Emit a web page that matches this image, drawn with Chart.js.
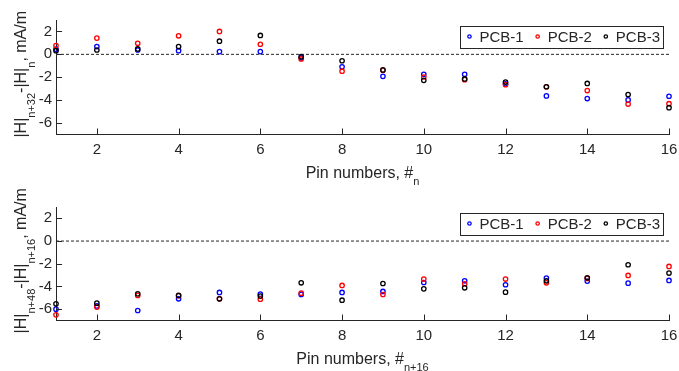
<!DOCTYPE html>
<html>
<head>
<meta charset="utf-8">
<script src="https://cdn.jsdelivr.net/npm/chart.js@4.4.0/dist/chart.umd.min.js"></script>
<style>
  html, body { margin: 0; padding: 0; background: #fff; }
  #wrap { position: relative; width: 679px; height: 371px; }
  #wrap canvas { position: absolute; left: 0; top: 0; }
</style>
</head>
<body>
<div id="wrap">
  <canvas id="topChart" width="679" height="371"></canvas>
  <canvas id="bottomChart" width="679" height="371"></canvas>
</div>
<script>
// pin numbers and tick labels
const pins = [1, 2, 3, 4, 5, 6, 7, 8, 9, 10, 11, 12, 13, 14, 15, 16];
const xTicks = [2, 4, 6, 8, 10, 12, 14, 16];
const yTicks = [-6, -4, -2, 0, 2];
const seriesNames = ['PCB-1', 'PCB-2', 'PCB-3'];
const zeroLine = [0, 0];

// |H|n+32 - |H|n
const pcb1Top = [0.45, 0.68, 0.38, 0.32, 0.24, 0.24, -0.3, -1.09, -1.92, -1.74, -1.74, -2.57, -3.63, -3.86, -3.98, -3.66];
const pcb2Top = [0.77, 1.42, 0.97, 1.62, 2.0, 0.88, -0.4, -1.47, -1.39, -1.98, -2.21, -2.65, -2.83, -3.16, -4.34, -4.31];
const pcb3Top = [0.32, 0.38, 0.47, 0.68, 1.15, 1.65, -0.2, -0.56, -1.36, -2.27, -2.15, -2.42, -2.83, -2.54, -3.51, -4.66];

// |H|n+48 - |H|n+16
const pcb1Bot = [-6.0, -5.72, -6.12, -5.09, -4.53, -4.68, -4.7, -4.53, -4.44, -3.65, -3.5, -3.85, -3.26, -3.53, -3.71, -3.47];
const pcb2Bot = [-6.5, -5.82, -4.79, -4.82, -5.09, -5.12, -4.59, -3.91, -4.71, -3.35, -3.76, -3.35, -3.68, -3.29, -3.03, -2.24];
const pcb3Bot = [-5.53, -5.47, -4.65, -4.79, -5.09, -4.85, -3.68, -5.21, -3.74, -4.21, -4.12, -4.5, -3.5, -3.24, -2.09, -2.82];

const colors = ['#0000ff', '#ff0000', '#000000'];
const axisColor = '#262626';
const fontFamily = '"Liberation Sans", Arial, Helvetica, sans-serif';

// draws text pieces, some as subscripts; returns total width
function richText(ctx, parts, x, y, subDrop, draw) {
  let w = 0;
  parts.forEach(p => {
    ctx.font = (p.sub ? 11 : 16) + 'px ' + fontFamily;
    if (draw) ctx.fillText(p.t, x + w, y + (p.sub ? subDrop : 0));
    w += ctx.measureText(p.t).width;
  });
  return w;
}

const matlabAxes = {
  id: 'matlabAxes',
  afterDraw(chart, args, opts) {
    const { ctx, chartArea: a } = chart;
    const xs = chart.scales.x, ys = chart.scales.y;
    ctx.save();
    // inward tick marks
    ctx.strokeStyle = axisColor;
    ctx.lineWidth = 1;
    ctx.beginPath();
    xTicks.forEach(v => {
      const px = Math.round(xs.getPixelForValue(v)) + 0.5;
      ctx.moveTo(px, a.bottom);
      ctx.lineTo(px, a.bottom - 6);
    });
    yTicks.forEach(v => {
      const py = Math.round(ys.getPixelForValue(v)) + 0.5;
      ctx.moveTo(a.left, py);
      ctx.lineTo(a.left + 6, py);
    });
    ctx.stroke();

    // axis titles
    ctx.fillStyle = axisColor;
    ctx.textBaseline = 'alphabetic';
    ctx.textAlign = 'left';
    const xw = richText(ctx, opts.xTitle, 0, 0, 0, false);
    richText(ctx, opts.xTitle, (a.left + a.right) / 2 - xw / 2, a.bottom + 43, 7.5, true);
    const yw = richText(ctx, opts.yTitle, 0, 0, 0, false);
    ctx.save();
    ctx.translate(26, (a.top + a.bottom) / 2 - 3);
    ctx.rotate(-Math.PI / 2);
    richText(ctx, opts.yTitle, -yw / 2, 0, 8.5, true);
    ctx.restore();

    // legend box
    ctx.font = '15px ' + fontFamily;
    const boxR = a.right - 6, boxT = a.top + 5.5, boxH = 22;
    const widths = seriesNames.map(n => ctx.measureText(n).width);
    const boxW = 9.5 + widths.reduce((s, w) => s + w, 0) + 10 * 3 + 14 * 2 + 3;
    const boxL = boxR - boxW;
    ctx.fillStyle = '#fff';
    ctx.fillRect(boxL, boxT, boxW, boxH);
    ctx.strokeStyle = axisColor;
    ctx.strokeRect(Math.round(boxL) + 0.5, Math.round(boxT) + 0.5, Math.round(boxW), boxH);
    let x = boxL + 9.5;
    const cy = boxT + boxH / 2;
    seriesNames.forEach((n, i) => {
      ctx.beginPath();
      ctx.arc(x, cy, 1.7, 0, Math.PI * 2);
      ctx.strokeStyle = colors[i];
      ctx.lineWidth = 1.3;
      ctx.stroke();
      ctx.fillStyle = axisColor;
      ctx.textBaseline = 'middle';
      ctx.fillText(n, x + 10, cy + 1);
      x += 10 + widths[i] + 14;
    });
    ctx.restore();
  }
};

function makeChart(id, area, values, xTitle, yTitle) {
  const datasets = values.map((vals, i) => ({
    label: seriesNames[i],
    data: pins.map((p, k) => ({ x: p, y: vals[k] })),
    borderColor: colors[i],
    backgroundColor: 'rgba(0,0,0,0)',
    pointRadius: 2.2,
    pointBorderWidth: 1.3,
    showLine: false,
    clip: false,
    order: 3 - i
  }));
  // dashed zero reference line
  datasets.push({
    type: 'line',
    data: [{ x: pins[0], y: zeroLine[0] }, { x: pins[pins.length - 1], y: zeroLine[1] }],
    borderColor: axisColor,
    borderWidth: 1,
    borderDash: [3, 2],
    pointRadius: 0,
    order: 10
  });
  const tickFont = { family: fontFamily, size: 15 };
  return new Chart(document.getElementById(id), {
    type: 'scatter',
    data: { datasets },
    options: {
      responsive: false,
      animation: false,
      events: [],
      layout: { padding: { top: area.top, right: 679 - area.right, left: 0, bottom: 0 } },
      plugins: {
        legend: { display: false },
        tooltip: { enabled: false },
        matlabAxes: { xTitle, yTitle }
      },
      scales: {
        x: {
          type: 'linear', min: 1, max: 16,
          afterFit: s => { s.height = 371 - area.bottom; s.paddingLeft = 0; s.paddingRight = 0; },
          afterBuildTicks: s => { s.ticks = xTicks.map(v => ({ value: v })); },
          grid: { display: false, drawTicks: false },
          border: { display: true, color: axisColor, width: 1 },
          ticks: { font: tickFont, color: axisColor, padding: 6, maxRotation: 0, autoSkip: false }
        },
        y: {
          type: 'linear', min: -7, max: 3,
          afterFit: s => { s.width = area.left; },
          afterBuildTicks: s => { s.ticks = yTicks.map(v => ({ value: v })); },
          grid: { display: false, drawTicks: false },
          border: { display: true, color: axisColor, width: 1 },
          ticks: { font: tickFont, color: axisColor, padding: 4, autoSkip: false }
        }
      }
    },
    plugins: [matlabAxes]
  });
}

makeChart('topChart', { left: 56, right: 669, top: 20, bottom: 134.5 },
  [pcb1Top, pcb2Top, pcb3Top],
  [{ t: 'Pin numbers, #' }, { t: 'n', sub: true }],
  [{ t: '|H|' }, { t: 'n+32', sub: true }, { t: '-|H|' }, { t: 'n', sub: true }, { t: ', mA/m' }]);

makeChart('bottomChart', { left: 56, right: 669, top: 207, bottom: 320.5 },
  [pcb1Bot, pcb2Bot, pcb3Bot],
  [{ t: 'Pin numbers, #' }, { t: 'n+16', sub: true }],
  [{ t: '|H|' }, { t: 'n+48', sub: true }, { t: '-|H|' }, { t: 'n+16', sub: true }, { t: ', mA/m' }]);
</script>
</body>
</html>
